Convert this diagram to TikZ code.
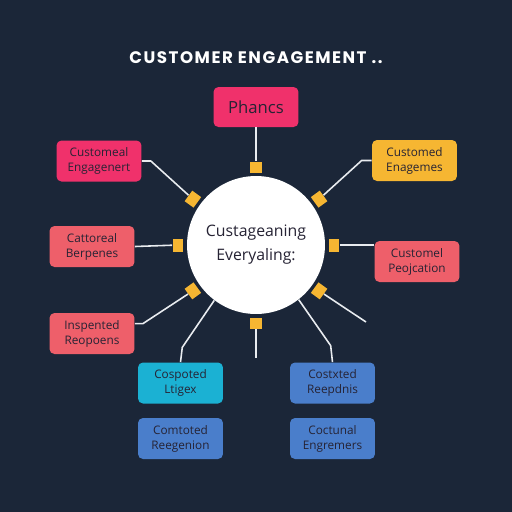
\documentclass[tikz,border=0pt]{standalone}
\usepackage{fontspec}
\setmainfont{Open Sans}
\newfontfamily\titlefont{Poppins}[LetterSpace=9]
\usetikzlibrary{calc}
\definecolor{navy}{HTML}{1B2638}
\definecolor{hotpink}{HTML}{F0316B}
\definecolor{amber}{HTML}{F6B632}
\definecolor{salmon}{HTML}{EE5F6A}
\definecolor{cyanbox}{HTML}{1BB1D3}
\definecolor{bluebox}{HTML}{4A7ECB}
\definecolor{inkdark}{HTML}{262334}
\definecolor{wire}{HTML}{E9ECF0}
\tikzset{
  card/.style={rounded corners=0.1cm, minimum width=1.7cm, minimum height=0.82cm,
    align=center, text=inkdark, font=\fontsize{6.7}{8.6}\selectfont, inner sep=1pt},
  plug/.style={fill=amber, minimum width=0.26cm, minimum height=0.22cm, inner sep=0pt},
  link/.style={wire, line width=0.9pt}
}
\begin{document}
\begin{tikzpicture}[x=0.02cm,y=-0.02cm]
\fill[navy] (0,0) rectangle (512,512);
\useasboundingbox (0,0) rectangle (512,512);
\node[text=white, font=\titlefont\bfseries\fontsize{9.5}{11}\selectfont] (title) at (256,58) {CUSTOMER ENGAGEMENT ..};
\node[circle, fill=white, minimum size=2.76cm, inner sep=0pt, align=center, text=inkdark,
  font=\fontsize{9}{13.6}\selectfont] (hub) at (256,245) {Custageaning\\Everyaling:};
\node[card, fill=hotpink, minimum height=0.8cm, font=\fontsize{9.5}{11}\selectfont] (ph) at (256,107) {Phancs};
\node[card, fill=hotpink] (ce) at (99,161) {Customeal\\Engagenert};
\node[card, fill=amber] (cen) at (414.5,160.5) {Customed\\Enagemes};
\node[card, fill=salmon] (cb) at (92,246.5) {Cattoreal\\Berpenes};
\node[card, fill=salmon] (cp) at (417,261.5) {Customel\\Peojcation};
\node[card, fill=salmon] (ir) at (92,333.5) {Inspented\\Reopoens};
\node[card, fill=cyanbox] (cl) at (180.5,383) {Cospoted\\Ltigex};
\node[card, fill=bluebox] (cr) at (332.5,383) {Costxted\\Reepdnis};
\node[card, fill=bluebox] (cre) at (180.5,438.5) {Comtoted\\Reegenion};
\node[card, fill=bluebox] (ceg) at (332.5,438.5) {Coctunal\\Engremers};
\foreach \a in {0,36,90,144,180,216,270,324}
  \node[plug, rotate=\a-90] (sq\a) at ($(hub.center)+({78*cos(\a)},{-78*sin(\a)})$) {};
\coordinate (tail) at (256,358);
\coordinate (stub) at (366,322);
\draw[link] (ph.south) -- (sq90);
\draw[link] (ce.east) -- ++(9,0) -- (sq144);
\draw[link] (cen.west) -- ++(-10,0) -- (sq36);
\draw[link] (cb.east) -- (sq180);
\draw[link] (sq0) -- (sq0 -| cp.west);
\draw[link] ($(ir.north east)+(0,11)$) -- ++(8,0) -- (sq216);
\draw[link] (hub.233) -- ++(-32,47) -- (cl.north);
\draw[link] (sq270) -- (tail);
\draw[link] (hub.308) -- ++(32,46) -- (cr.north);
\draw[link] (sq324) -- (stub);
\end{tikzpicture}
\end{document}
